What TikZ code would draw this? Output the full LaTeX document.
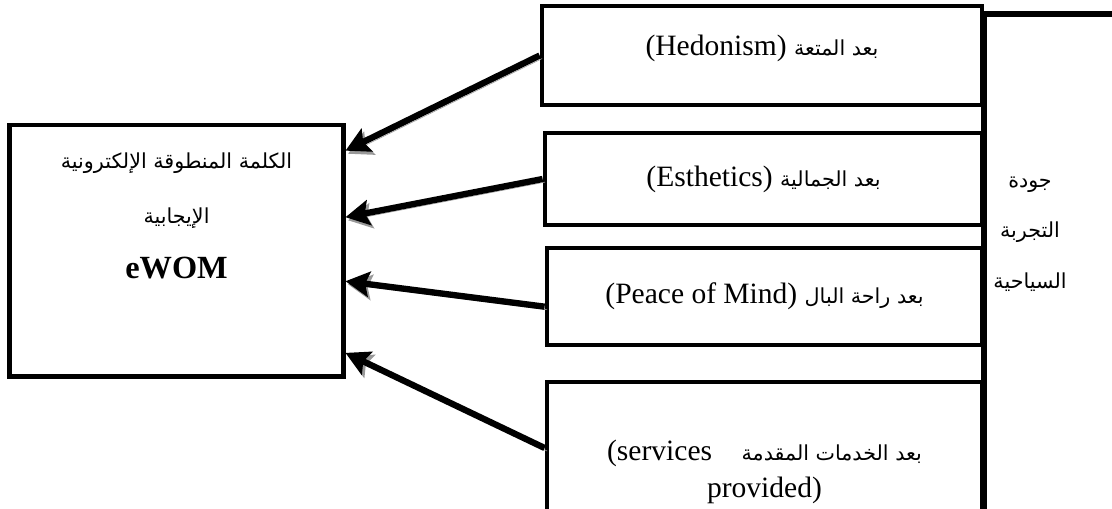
\documentclass[tikz,border=0pt]{standalone}
\usepackage{fontspec}
\setmainfont{Liberation Serif}
\newfontfamily\arabicfont[Script=Arabic,Scale=0.7]{DejaVu Sans}
\TeXXeTstate=1
\usetikzlibrary{positioning,arrows.meta,calc}

\begin{document}
\begin{tikzpicture}[
    x=0.025cm, y=-0.025cm,
    box/.style={draw, line width=3.3pt, align=center, inner sep=0pt, font=\fontsize{21}{26}\selectfont},
    arrow/.style={-{Stealth[length=17pt, width=18pt, inset=3pt]}, line width=4.5pt,
        preaction={draw=black!40, transform canvas={shift={(1.8pt,-2.2pt)}}}}
]
\clip (0,0) rectangle (1112,508);
% the large frame on the right
\node[draw, line width=4.5pt, inner sep=0pt, outer sep=0pt, anchor=north west, minimum width=5cm, minimum height=14cm] (quality) at (984,14) {};
\node[align=center, font=\fontsize{21}{36}\selectfont] (qualitytext) at (1030,234)
    {\beginR{\arabicfont جودة}\endR\\ \beginR{\arabicfont التجربة}\endR\\ \beginR{\arabicfont السياحية}\endR};
% the four dimensions
\node[box, minimum width=11cm, minimum height=2.475cm, text depth=0.52cm] (hedonism) at (762,55.5)
    {\beginR{\arabicfont بعد المتعة} \beginL(Hedonism)\endL\endR};
\node[box, minimum width=10.925cm, minimum height=2.3cm] (esthetics) at (763.5,179)
    {\beginR{\arabicfont بعد الجمالية} \beginL(Esthetics)\endL\endR};
\node[box, minimum width=10.875cm, minimum height=2.425cm] (peace) at (764.5,296.5)
    {\beginR{\arabicfont بعد راحة البال} \beginL(Peace of Mind)\endL\endR};
\node[box, minimum width=10.875cm, minimum height=4.5cm] (services) at (764.5,472)
    {\beginR{\arabicfont بعد الخدمات المقدمة}\quad\beginL(services\endL\endR\\ provided)};
% eWOM
\node[box, line width=3.5pt, minimum width=8.325cm, minimum height=6.275cm, font=\fontsize{21}{39}\selectfont] (ewom) at (176.5,250.5)
    {\beginR{\arabicfont الكلمة المنطوقة الإلكترونية}\endR\\
     \beginR{\arabicfont الإيجابية}\endR\\
     {\fontsize{23}{39}\selectfont\bfseries eWOM}\\[11pt]\mbox{}};
% arrows
\draw[arrow] (hedonism.west) -- ($(ewom.north east)!0.11!(ewom.south east)$);
\draw[arrow] (esthetics.west) -- ($(ewom.north east)!0.37!(ewom.south east)$);
\draw[arrow] ($(peace.north west)!0.6!(peace.south west)$) -- ($(ewom.north east)!0.62!(ewom.south east)$);
\draw[arrow] ($(services.north west)!0.37!(services.south west)$) -- ($(ewom.north east)!0.9!(ewom.south east)$);
\end{tikzpicture}
\end{document}
